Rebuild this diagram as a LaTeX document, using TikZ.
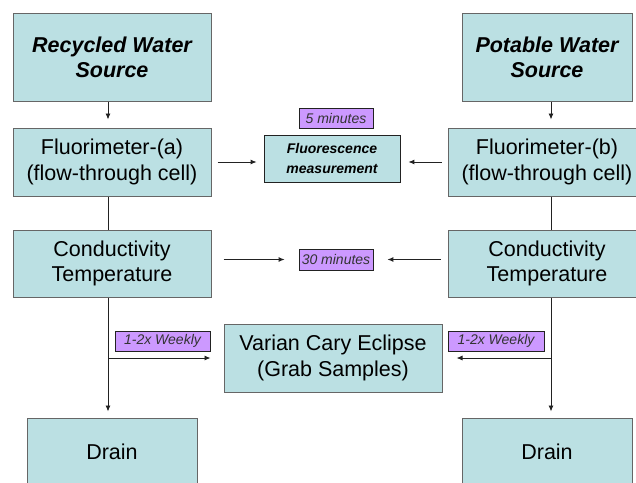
\documentclass[tikz,border=0pt]{standalone}
\usepackage{fontspec}
\setmainfont{Liberation Sans}
\usetikzlibrary{arrows.meta,calc}
\definecolor{boxfill}{HTML}{BBE0E3}
\definecolor{boxline}{HTML}{666666}
\definecolor{tagfill}{HTML}{CC99FF}
\definecolor{lnc}{HTML}{222222}
\tikzset{
  bigbox/.style={draw=boxline, fill=boxfill, line width=1pt, inner sep=0pt, align=center,
    font=\fontsize{21.5}{25.5}\selectfont},
  srcbox/.style={bigbox, font=\fontsize{21.5}{25}\selectfont\bfseries\itshape},
  smallbox/.style={draw=lnc, fill=boxfill, line width=0.8pt, inner sep=0pt, align=center,
    font=\fontsize{14}{19.5}\selectfont\bfseries\itshape},
  tag/.style={draw=lnc, fill=tagfill, line width=0.8pt, inner sep=0pt, align=center,
    font=\fontsize{14}{16}\selectfont\itshape, text=black!80},
  arr/.style={draw=lnc, line width=0.9pt, -{Latex[length=6pt,width=5pt]}},
  ln/.style={draw=lnc, line width=0.9pt}
}
\begin{document}
\begin{tikzpicture}[x=1pt,y=-1pt]
\useasboundingbox (0,0) rectangle (636,482);
\clip (0,0) rectangle (636,482);
\fill[white] (0,0) rectangle (636,482);
% left column
\node[srcbox, minimum width=198pt, minimum height=88pt] (rec) at (112,57) {Recycled Water\\Source};
\node[bigbox, minimum width=198pt, minimum height=68pt] (fa) at (112,162) {Fluorimeter-(a)\\(flow-through cell)};
\node[bigbox, minimum width=198pt, minimum height=67pt] (ca) at (112,263.5) {Conductivity\\Temperature};
\node[bigbox, minimum width=170pt, minimum height=68pt] (da) at (112,452) {Drain};
% right column
\node[srcbox, minimum width=170pt, minimum height=88pt] (pot) at (547,57) {Potable Water\\Source};
\node[bigbox, minimum width=198pt, minimum height=68pt] (fb) at (547,162) {Fluorimeter-(b)\\(flow-through cell)};
\node[bigbox, minimum width=198pt, minimum height=67pt] (cb) at (547,263.5) {Conductivity\\Temperature};
\node[bigbox, minimum width=170pt, minimum height=68pt] (db) at (547,452) {Drain};
% middle
\node[smallbox, minimum width=136pt, minimum height=47pt] (fm) at (332,158.5) {Fluorescence\\measurement};
\node[tag, minimum width=74pt, minimum height=20pt] (m5) at (336,118) {5 minutes};
\node[tag, minimum width=74pt, minimum height=21pt] (m30) at (336,259.5) {30 minutes};
\node[bigbox, minimum width=218pt, minimum height=68pt] (var) at (333,358) {Varian Cary Eclipse\\(Grab Samples)};
\node[tag, minimum width=95pt, minimum height=20pt] (wa) at (162.5,341) {1-2x Weekly};
\node[tag, minimum width=96pt, minimum height=20pt] (wb) at (496,341) {1-2x Weekly};
% guide coordinates
\coordinate (xa) at (108,0);
\coordinate (xb) at (551,0);
\coordinate (ja) at (108,358);
\coordinate (jb) at (551,358);
% left connectors
\draw[arr, shorten >=8pt] (rec.south -| xa) -- (fa.north -| xa);
\draw[ln] (fa.south -| xa) -- (ca.north -| xa);
\draw[arr, shorten >=6pt] (ca.south -| xa) -- (da.north -| xa);
\draw[arr, shorten >=13pt] (ja) -- (var.west |- ja);
% right connectors
\draw[arr, shorten >=8pt] (pot.south -| xb) -- (fb.north -| xb);
\draw[ln] (fb.south -| xb) -- (cb.north -| xb);
\draw[arr, shorten >=6pt] (cb.south -| xb) -- (db.north -| xb);
\draw[arr, shorten >=14pt] (jb) -- (var.east |- jb);
% measurement arrows
\draw[arr, shorten <=6pt, shorten >=7pt] (fa.east) -- (fa.east -| fm.west);
\draw[arr, shorten <=6pt, shorten >=8pt] (fb.west) -- (fb.west -| fm.east);
\draw[arr, shorten <=12pt, shorten >=14pt] (ca.east |- m30) -- (m30.west);
\draw[arr, shorten <=7pt, shorten >=14pt] (cb.west |- m30) -- (m30.east);
\end{tikzpicture}
\end{document}
